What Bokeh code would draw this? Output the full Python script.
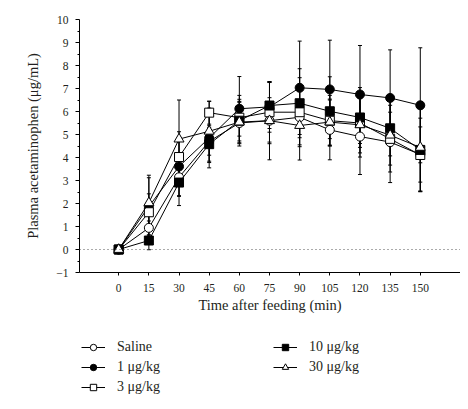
from bokeh.plotting import figure
from bokeh.layouts import column
from bokeh.models import (ColumnDataSource, Range1d, FixedTicker, Span, Whisker,
                          TeeHead, Legend, LegendItem)
from bokeh.embed import file_html
from bokeh.resources import INLINE

# ---- data ----
times = [0, 15, 30, 45, 60, 75, 90, 105, 120, 135, 150]
saline = [0, 0.94, 3.14, 4.70, 5.50, 5.60, 5.75, 5.20, 4.91, 4.67, 4.13]
dose1 = [0, 1.87, 3.61, 4.85, 6.12, 6.20, 7.03, 6.96, 6.74, 6.59, 6.27]
dose3 = [0, 1.62, 4.02, 5.95, 5.73, 5.97, 5.97, 5.60, 5.50, 4.81, 4.11]
dose10 = [0, 0.39, 2.91, 4.58, 5.60, 6.26, 6.36, 6.01, 5.74, 5.27, 4.33]
dose30 = [0, 2.03, 4.80, 5.14, 5.54, 5.60, 5.39, 5.54, 5.42, 4.97, 4.44]

err_saline = [0, 0.30, 0.80, 0.60, 0.90, 1.00, 1.20, 1.30, 1.65, 1.30, 1.20]
err_dose1 = [0, 1.25, 1.30, 1.30, 1.40, 1.10, 2.03, 2.14, 2.13, 2.09, 2.50]
err_dose3 = [0, 0.80, 1.10, 0.50, 0.80, 1.30, 1.50, 1.10, 1.30, 1.90, 1.60]
err_dose10 = [0, 0.40, 1.00, 0.80, 1.10, 1.00, 1.50, 1.50, 1.30, 1.20, 1.80]
err_dose30 = [0, 1.20, 1.70, 1.30, 0.90, 1.70, 1.50, 1.00, 1.40, 1.30, 1.90]

labels = ["Saline", "1 μg/kg", "3 μg/kg", "10 μg/kg", "30 μg/kg"]
x_ticks = [0, 15, 30, 45, 60, 75, 90, 105, 120, 135, 150]
y_ticks = list(range(-1, 11))

series = [saline, dose1, dose3, dose10, dose30]
errors = [err_saline, err_dose1, err_dose3, err_dose10, err_dose30]
markers = ["circle", "circle", "square", "square", "triangle"]
fills = ["white", "black", "white", "black", "white"]
msizes = [9, 9, 9, 9, 10]

FONT = "Liberation Serif"
TXT = "#231f20"

p = figure(width=460, height=318, output_backend="svg", toolbar_location=None,
           x_range=Range1d(-19.5, 170), y_range=Range1d(-1, 10),
           min_border_left=79, min_border_right=0, min_border_top=19,
           min_border_bottom=46)
p.outline_line_color = None
p.grid.visible = False
p.background_fill_color = "white"
p.border_fill_color = "white"

# axes
p.xaxis.ticker = FixedTicker(ticks=x_ticks)
p.yaxis.ticker = FixedTicker(ticks=y_ticks,
                             minor_ticks=[v + 0.5 for v in y_ticks[:-1]])
p.yaxis.major_label_overrides = {-1: "−1"}
for ax in (p.xaxis, p.yaxis):
    ax.axis_line_color = "black"
    ax.axis_line_width = 1
    ax.major_tick_line_color = "black"
    ax.minor_tick_line_color = "black"
    ax.major_tick_in = 0
    ax.minor_tick_in = 0
    ax.major_label_text_font = FONT
    ax.major_label_text_font_size = "11.5px"
    ax.major_label_text_color = TXT
    ax.axis_label_text_font = FONT
    ax.axis_label_text_font_size = "14.5px"
    ax.axis_label_text_font_style = "normal"
    ax.axis_label_text_color = TXT
p.xaxis.major_tick_out = 3
p.xaxis.minor_tick_line_color = None
p.xaxis.major_label_standoff = 8
p.xaxis.axis_label = "Time after feeding (min)"
p.xaxis.axis_label_standoff = 2
p.yaxis.major_tick_out = 4
p.yaxis.minor_tick_out = 2
p.yaxis.major_label_standoff = 7
p.yaxis.axis_label = "Plasma acetaminophen (μg/mL)"
p.yaxis.axis_label_standoff = 12

# zero reference line
p.add_layout(Span(location=0, dimension="width", line_color="#555555",
                  line_width=1, line_dash="1 3"))

# error bars
for vals, errs in zip(series, errors):
    src = ColumnDataSource(dict(x=times,
                                upper=[v + e for v, e in zip(vals, errs)],
                                lower=[v - e for v, e in zip(vals, errs)]))
    p.add_layout(Whisker(source=src, base="x", upper="upper", lower="lower",
                         line_color="black", line_width=1,
                         upper_head=TeeHead(size=4, line_color="black", line_width=1),
                         lower_head=TeeHead(size=4, line_color="black", line_width=1)))

sources = []
for vals, mk, fc, ms in zip(series, markers, fills, msizes):
    src = ColumnDataSource(dict(x=times, y=vals))
    sources.append(src)
    p.line("x", "y", source=src, line_color="black", line_width=1)
    p.scatter("x", "y", source=src, marker=mk, size=ms, fill_color=fc,
              line_color="black", line_width=1)

# ---- legend panel below the chart (its own ranges keep the data out of view) ----
lp = figure(width=460, height=82, output_backend="svg", toolbar_location=None,
            x_range=Range1d(1000, 1001), y_range=Range1d(1000, 1001),
            x_axis_type=None, y_axis_type=None,
            min_border_left=0, min_border_right=0, min_border_top=0,
            min_border_bottom=0)
lp.outline_line_color = None
lp.grid.visible = False
lp.background_fill_color = "white"
lp.border_fill_color = "white"

items = []
for src, lab, mk, fc, ms in zip(sources, labels, markers, fills, msizes):
    ln = lp.line("x", "y", source=src, line_color="black", line_width=1)
    sc = lp.scatter("x", "y", source=src, marker=mk, size=ms, fill_color=fc,
                    line_color="black", line_width=1)
    items.append(LegendItem(label=lab, renderers=[ln, sc]))


def make_legend(its, loc):
    return Legend(items=its, location=loc, orientation="vertical",
                  border_line_color=None, background_fill_alpha=0,
                  padding=0, margin=0, spacing=4,
                  glyph_width=24, glyph_height=16, label_height=16,
                  label_standoff=12, label_text_font=FONT,
                  label_text_font_size="14px", label_text_color=TXT)


lp.add_layout(make_legend(items[:3], (2, 5)))
lp.add_layout(make_legend(items[3:], (194, 25)))

layout = column(p, lp, spacing=0)
open("out.html", "w").write(file_html(layout, INLINE))
